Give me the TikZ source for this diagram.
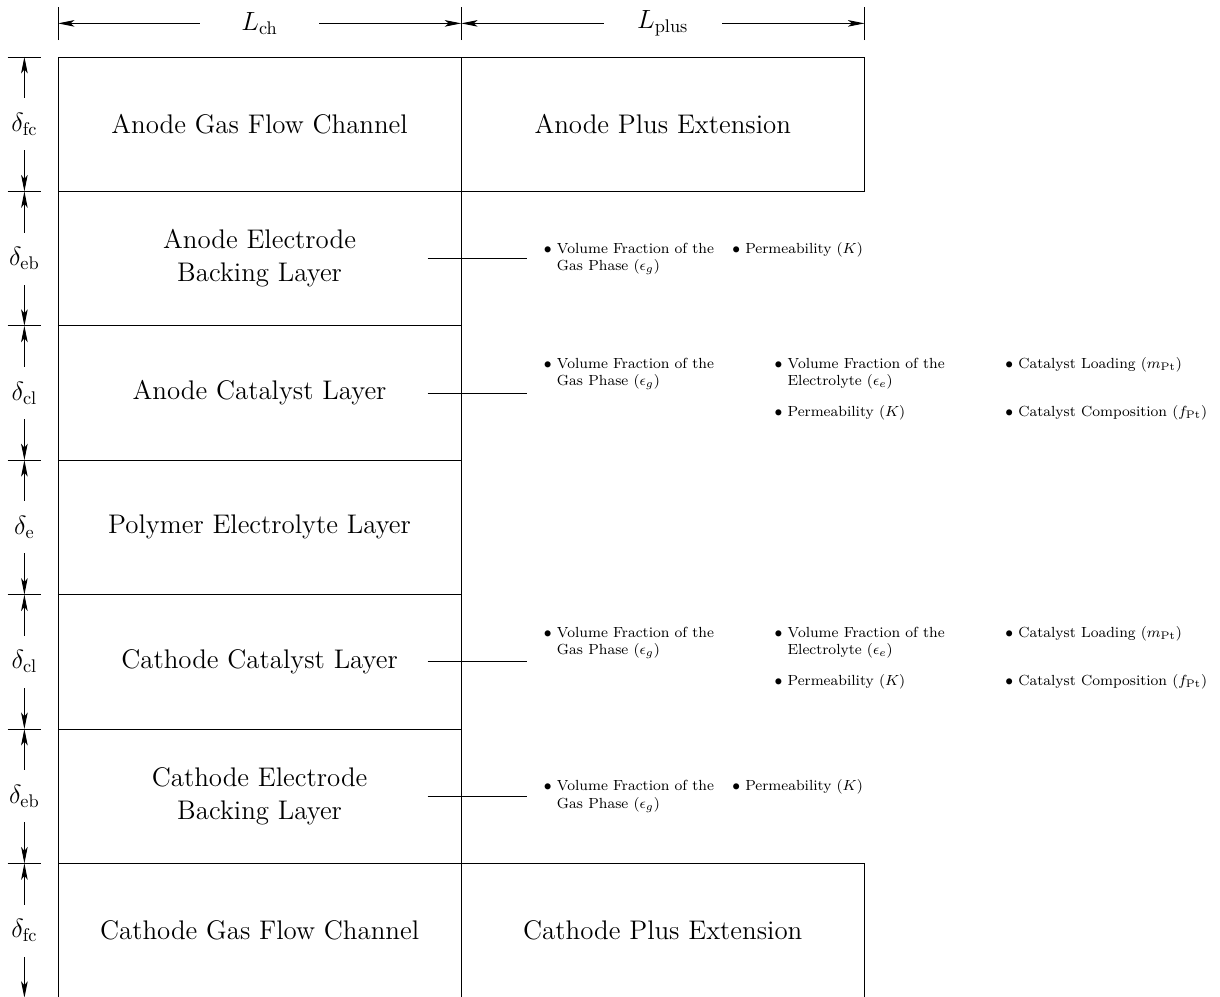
\documentclass[tikz,border=0pt]{standalone}
\usetikzlibrary{arrows.meta}

\newcommand{\bul}[1]{$\bullet$~\begin{tabular}[t]{@{}l@{}}#1\end{tabular}}
\newcommand{\ebprops}{%
  \begin{tabular}{@{}l@{\hspace{10pt}}l@{}}
  \bul{Volume Fraction of the\\ Gas Phase ($\epsilon_g$)} &
  \bul{Permeability ($K$)}
  \end{tabular}}
\newcommand{\clprops}{%
  \begin{tabular}{@{}p{126pt}@{}p{126pt}@{}l@{}}
  \bul{Volume Fraction of the\\ Gas Phase ($\epsilon_g$)} &
  \bul{Volume Fraction of the\\ Electrolyte ($\epsilon_e$)} &
  \bul{Catalyst Loading ($m_\mathrm{Pt}$)}\\[16.7pt]
  & \bul{Permeability ($K$)} &
  \bul{Catalyst Composition ($f_\mathrm{Pt}$)}
  \end{tabular}}

\begin{document}
\begin{tikzpicture}
  [x=2.58cm,y=2.58cm,font=\fontsize{14.7}{18}\selectfont,line width=0.5pt,
   >={Stealth[length=9pt,width=3.6pt,inset=2.2pt]},
   props/.style={anchor=west,inner xsep=9pt,inner ysep=0pt,
     font=\footnotesize},
   dimlabel/.style={fill=white,inner sep=0pt}]
\useasboundingbox (-0.4315,0.424) rectangle (8.646,-6.99);

% layers of the cell
\draw (0,0) rectangle (6,-1);
\draw (0,-6) rectangle (6,-7);
\draw (0,0) rectangle (3,-7);
\foreach \y in {-2,...,-5}
  \draw (0,\y) -- (3,\y);

\path
    (1.5,-0.5) node (agc) {Anode Gas Flow Channel}
    (4.5,-0.5) node (ape) {Anode Plus Extension}
    (1.5,-1.5) node [align=center] (aeb) {Anode Electrode\\ Backing Layer}
    (1.5,-2.5) node (acl) {Anode Catalyst Layer}
    (1.5,-3.5) node (pel) {Polymer Electrolyte Layer}
    (1.5,-4.5) node (ccl) {Cathode Catalyst Layer}
    (1.5,-5.5) node [align=center] (ceb) {Cathode Electrode\\ Backing Layer}
    (1.5,-6.5) node (cgc) {Cathode Gas Flow Channel}
    (4.5,-6.5) node (cpe) {Cathode Plus Extension};

% material properties
\path
    (3.49,-1.5) node [props] (aebp) {\ebprops}
    (3.49,-2.47) node [props] (aclp) {\clprops}
    (3.49,-4.47) node [props] (cclp) {\clprops}
    (3.49,-5.5) node [props] (cebp) {\ebprops};
\foreach \n/\y in {aeb/-1.5,acl/-2.5,ccl/-4.5,ceb/-5.5}
  {
  \coordinate (\n l) at (2.75,\y);
  \draw (\n l) -- (\n l -| \n p.west);
  }

% dimensions
\foreach \x in {0,3,6}
  \draw (\x,0.125) -- (\x,0.375);
\foreach \y in {0,...,-6}
  \draw (-0.375,\y) -- (-0.125,\y);
\draw [<->] (0,0.25) -- node [dimlabel,minimum width=2.27cm] (lch)
    {$L_\mathrm{ch}$} (3,0.25);
\draw [<->] (3,0.25) -- node [dimlabel,minimum width=2.27cm] (lplus)
    {$L_\mathrm{plus}$} (6,0.25);
\foreach \yt/\lab [count=\i] in {0/fc,-1/eb,-2/cl,-3/e,-4/cl,-5/eb,-6/fc}
  \draw [<->] (-0.25,\yt) -- node [dimlabel,minimum height=1cm] (d\i)
    {$\delta_\mathrm{\lab}$} (-0.25,\yt-1);
\end{tikzpicture}
\end{document}
